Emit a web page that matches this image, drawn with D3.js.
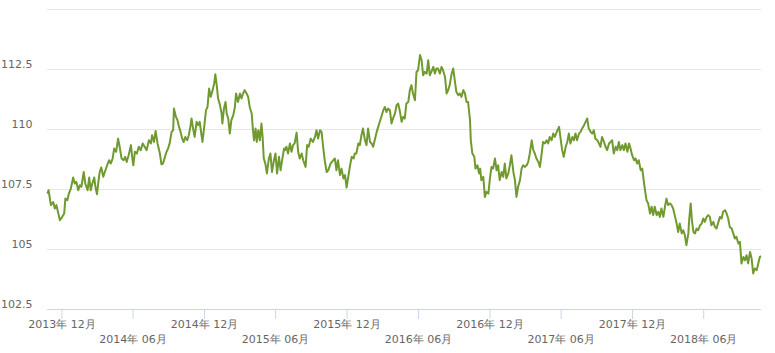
<!DOCTYPE html>
<html>
<head>
<meta charset="utf-8">
<script src="https://cdn.jsdelivr.net/npm/d3@7"></script>
<style>
  body { margin: 0; background: #fff; }
  svg { display: block; font-family: "DejaVu Sans", Verdana, sans-serif; }
</style>
</head>
<body>
<svg width="775" height="353"></svg>
<script>
// series start, every point is [days since start, value]
var startDate = '2013-10-25'
var endOffset = 1828

var points = [
  [1, 107.33], [4, 107.47], [10, 106.85], [16, 106.98], [20, 106.71], [24, 106.85], [28, 106.57], [33, 106.22],
  [39, 106.36], [44, 106.50], [47, 107.12], [52, 107.05], [56, 107.33], [61, 107.54], [67, 108.00], [71, 107.75],
  [75, 107.82], [80, 107.47], [84, 107.68], [88, 107.61], [94, 108.23], [98, 107.75], [104, 107.47], [108, 108.00],
  [112, 107.47], [116, 107.75], [121, 108.00], [124, 107.61], [128, 107.30], [131, 107.75], [135, 108.23], [139, 108.42],
  [144, 108.03], [148, 108.23], [154, 108.51], [159, 108.72], [163, 108.58], [168, 108.79], [172, 109.21], [177, 109.07],
  [182, 109.62], [186, 109.28], [191, 108.79], [196, 108.72], [200, 108.86], [204, 108.65], [209, 108.93], [215, 109.35],
  [218, 108.86], [221, 108.51], [225, 109.07], [230, 109.00], [235, 109.28], [240, 109.14], [245, 109.42], [250, 109.28],
  [255, 109.14], [261, 109.55], [266, 109.42], [269, 109.76], [274, 109.48], [278, 109.94], [283, 109.42], [289, 109.00],
  [293, 108.55], [297, 108.58],
  [302, 108.86], [306, 109.07], [310, 109.21], [314, 109.42], [319, 109.90], [323, 109.97], [325, 110.87], [330, 110.53],
  [334, 110.39], [337, 110.18], [342, 109.90], [346, 109.62], [350, 109.48], [354, 109.69], [359, 109.55], [363, 109.76],
  [367, 110.11], [370, 110.46], [374, 110.04], [378, 109.69], [383, 110.32], [387, 110.18], [391, 110.32], [395, 109.83],
  [398, 109.48], [402, 110.04], [407, 110.80], [411, 110.94], [415, 111.71], [419, 111.36], [424, 111.64], [428, 111.92],
  [431, 112.30], [435, 111.78], [438, 111.29], [442, 111.08], [447, 110.67], [449, 110.25], [453, 110.87], [457, 111.15],
  [460, 110.67], [464, 110.46], [468, 109.83], [472, 110.39], [477, 110.60], [481, 110.94], [484, 111.50], [489, 111.15],
  [494, 111.50], [498, 111.29], [502, 111.50], [506, 111.64], [511, 111.50], [515, 111.36], [519, 110.94], [524, 110.67],
  [527, 110.04], [530, 109.55], [534, 110.04], [537, 109.48], [541, 109.97], [545, 109.55], [549, 110.25], [552, 109.69],
  [555, 108.79], [559, 108.58], [563, 108.17], [568, 108.79], [572, 109.00], [576, 108.23], [581, 108.72], [585, 109.00],
  [589, 108.17], [594, 108.86], [598, 108.30], [602, 108.72], [607, 109.21],
  [609, 109.14], [613, 109.28], [617, 109.00], [622, 109.42], [626, 109.07], [630, 109.35], [634, 109.42], [639, 109.87],
  [643, 109.07], [647, 108.79], [652, 109.00], [656, 108.72], [662, 108.44], [666, 109.35], [670, 109.28], [675, 109.62],
  [681, 109.48], [686, 109.69], [690, 109.97], [694, 109.62], [699, 109.97], [703, 109.90], [707, 109.28], [711, 108.72],
  [716, 108.23], [720, 108.30], [726, 108.58], [733, 108.72], [737, 108.79], [741, 108.30], [745, 108.72], [750, 108.10],
  [754, 108.37], [759, 107.96], [763, 108.10], [767, 107.58], [771, 108.00], [776, 108.51], [780, 108.86], [785, 108.79],
  [788, 109.00], [792, 109.00], [797, 109.42], [801, 109.35], [805, 109.76], [809, 110.04], [814, 109.55], [818, 109.35],
  [822, 110.04], [827, 109.48], [831, 109.42], [835, 109.28], [839, 109.55], [844, 109.90], [848, 110.11], [852, 110.32],
  [856, 110.53], [861, 110.80], [865, 110.94], [869, 110.73], [873, 110.87], [878, 110.80], [882, 110.25], [886, 110.46],
  [891, 110.67], [895, 111.01], [899, 111.08], [903, 110.80], [908, 110.32], [912, 110.53],
  [916, 110.46], [920, 111.08], [925, 111.15], [929, 111.64], [933, 111.85], [937, 111.50], [942, 111.22], [946, 112.40],
  [950, 112.47], [955, 113.10], [959, 112.89], [963, 112.26], [967, 112.40], [972, 112.33], [976, 112.89], [980, 112.26],
  [984, 112.40], [989, 112.61], [993, 112.33], [997, 112.54], [1001, 112.54], [1006, 112.33], [1010, 112.61], [1014, 112.47],
  [1019, 112.19], [1023, 111.50], [1027, 111.64], [1031, 111.85], [1036, 112.33], [1040, 112.54], [1044, 112.05], [1048, 111.57],
  [1053, 111.43], [1057, 111.50], [1061, 111.36], [1066, 111.64], [1070, 111.50], [1074, 111.15], [1078, 111.15], [1083, 110.39],
  [1085, 109.55], [1089, 109.00], [1094, 108.86], [1097, 108.37], [1102, 108.51], [1106, 108.17], [1109, 108.37], [1112, 107.89],
  [1117, 108.03], [1121, 107.19], [1125, 107.40], [1130, 107.33], [1134, 107.96], [1138, 108.44], [1142, 108.37], [1147, 108.79],
  [1151, 108.30], [1155, 108.51], [1159, 107.89], [1164, 108.23], [1168, 108.03], [1172, 108.58], [1176, 107.96], [1181, 108.17],
  [1185, 108.51], [1189, 108.93], [1194, 108.23], [1198, 107.89], [1202, 107.19], [1206, 107.61], [1211, 107.89], [1215, 108.37],
  [1219, 108.51],
  [1223, 108.44], [1228, 108.51], [1232, 108.65], [1236, 109.00], [1241, 109.55], [1245, 109.14], [1249, 109.00], [1253, 108.79],
  [1258, 108.65], [1262, 108.44], [1266, 108.93], [1270, 109.48], [1275, 109.42], [1279, 109.55], [1283, 109.42], [1287, 109.69],
  [1292, 109.55], [1296, 109.83], [1300, 109.69], [1305, 109.90], [1309, 110.04], [1311, 110.11], [1316, 109.48], [1319, 109.14],
  [1323, 108.86], [1328, 109.28], [1332, 109.48], [1336, 109.83], [1340, 109.42], [1345, 109.69], [1349, 109.55], [1353, 109.83],
  [1357, 109.55], [1362, 109.83], [1366, 109.90], [1370, 110.04], [1375, 110.18], [1379, 110.32], [1383, 110.46], [1387, 110.04],
  [1392, 109.90], [1396, 109.83], [1400, 109.97], [1404, 109.62], [1409, 109.55], [1413, 109.42], [1417, 109.28], [1421, 109.69],
  [1426, 109.48], [1430, 109.28], [1434, 109.14], [1439, 109.42], [1443, 109.48], [1447, 109.55], [1451, 109.00], [1456, 109.28],
  [1460, 109.14], [1464, 109.48], [1468, 109.14], [1473, 109.35], [1477, 109.14], [1481, 109.42], [1486, 109.07], [1490, 109.42],
  [1494, 109.21], [1498, 108.93], [1503, 108.72], [1507, 108.79], [1511, 108.58], [1515, 108.72], [1520, 108.30], [1524, 108.37],
  [1527, 107.96],
  [1531, 107.47], [1535, 107.05], [1539, 106.92], [1544, 106.50], [1548, 106.78], [1552, 106.43], [1556, 106.78], [1561, 106.43],
  [1565, 106.57], [1569, 106.36], [1573, 106.71], [1578, 106.36], [1582, 106.78], [1586, 107.12], [1590, 106.85], [1595, 106.92],
  [1599, 106.85], [1603, 106.71], [1608, 106.36], [1612, 106.08], [1616, 105.73], [1620, 106.08], [1625, 105.67], [1629, 105.80],
  [1633, 105.60], [1637, 105.18], [1642, 105.67], [1644, 106.22], [1648, 106.92], [1651, 106.22], [1655, 105.73], [1659, 105.67],
  [1663, 105.87], [1667, 105.80], [1672, 106.01], [1676, 106.08], [1680, 106.29], [1684, 106.15], [1689, 106.36], [1693, 106.43],
  [1697, 106.36], [1701, 106.01], [1706, 106.15], [1710, 105.94], [1714, 105.87], [1719, 106.15], [1723, 106.36], [1727, 106.29],
  [1731, 106.57], [1736, 106.64], [1740, 106.50], [1744, 106.29], [1748, 105.94], [1753, 105.87], [1757, 105.67], [1761, 105.46],
  [1765, 105.53], [1770, 105.25], [1774, 105.32], [1778, 104.42], [1783, 104.69], [1787, 104.55], [1791, 104.76], [1795, 104.42],
  [1800, 104.90], [1804, 104.62], [1808, 104.00], [1812, 104.21], [1817, 104.14], [1821, 104.42], [1825, 104.69], [1828, 104.72]
]

var yTicks = [102.5, 105, 107.5, 110, 112.5, 115]
var xTickMonths = ['2013-12', '2014-06', '2014-12', '2015-06', '2015-12',
  '2016-06', '2016-12', '2017-06', '2017-12', '2018-06']

var svg = d3.select('svg')
var plotLeft = 47, plotRight = 761, plotTop = 9.5, plotBottom = 309.5

var start = d3.timeParse('%Y-%m-%d')(startDate)
var x = d3.scaleTime()
  .domain([start, d3.timeDay.offset(start, endOffset)])
  .range([plotLeft, plotRight])
var y = d3.scaleLinear().domain([102.5, 115]).range([plotBottom, plotTop])

// grid
svg.append('g')
  .selectAll('line')
  .data(yTicks)
  .join('line')
  .attr('x1', plotLeft)
  .attr('x2', plotRight)
  .attr('y1', d => y(d))
  .attr('y2', d => y(d))
  .attr('stroke', '#e6e6e6')
  .attr('stroke-width', 1)

// y labels (top one is not shown)
svg.append('g')
  .selectAll('text')
  .data(yTicks.slice(0, -1))
  .join('text')
  .attr('x', 32.5)
  .attr('y', d => y(d) - 2)
  .attr('text-anchor', 'end')
  .attr('fill', '#666666')
  .style('font-size', '11px')
  .text(d => d)

// x axis
var parseMonth = d3.timeParse('%Y-%m')
var xAxis = d3.axisBottom(x)
  .tickValues(xTickMonths.map(parseMonth))
  .tickSize(10)
  .tickFormat(d3.timeFormat('%Y年 %m月'))

var gx = svg.append('g')
  .attr('transform', 'translate(0,' + (plotBottom - 0.5) + ')')
  .call(xAxis)
gx.select('.domain').remove()
gx.selectAll('.tick line').attr('stroke', '#ccd6eb')
gx.selectAll('.tick text')
  .attr('fill', '#666666')
  .attr('dy', 0)
  .attr('y', (d, i) => (i % 2 === 0 ? 18.5 : 33.5))
  .style('font-size', '11px')
  .style('font-family', '"DejaVu Sans", Verdana, sans-serif')

svg.append('line')
  .attr('x1', plotLeft)
  .attr('x2', plotRight)
  .attr('y1', plotBottom)
  .attr('y2', plotBottom)
  .attr('stroke', '#ccd6eb')

// series
var line = d3.line()
  .x(d => x(d3.timeDay.offset(start, d[0])))
  .y(d => y(d[1]))

svg.append('path')
  .datum(points)
  .attr('d', line)
  .attr('fill', 'none')
  .attr('stroke', '#709a30')
  .attr('stroke-width', 2)
  .attr('stroke-linejoin', 'round')
</script>
</body>
</html>
